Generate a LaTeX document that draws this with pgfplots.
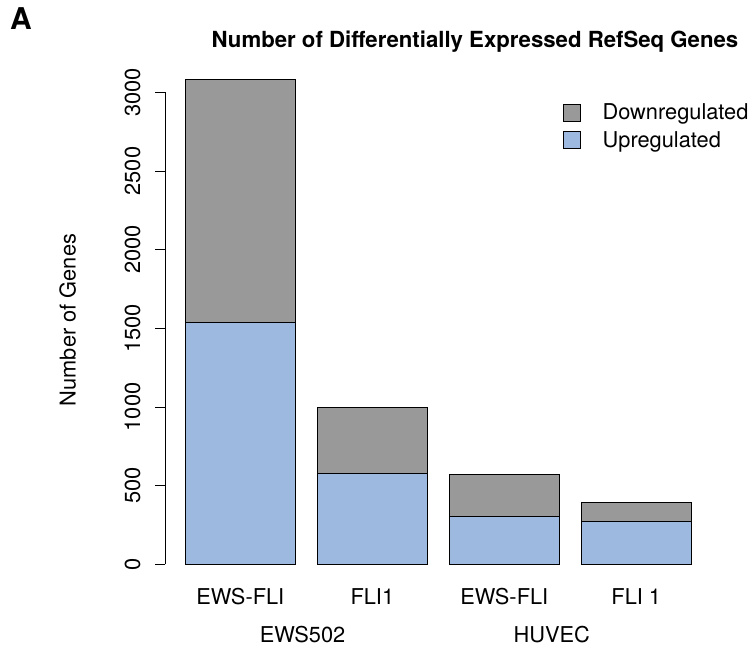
\documentclass[border=0pt]{standalone}
\usepackage{fontspec}
\setmainfont{TeX Gyre Heros}
\usepackage{pgfplots}
\pgfplotsset{compat=1.18}

\definecolor{downgray}{RGB}{153,153,153}
\definecolor{upblue}{RGB}{157,185,224}
\newcommand\lab{\fontsize{21.8}{25}\selectfont}

\pgfplotsset{
  sq legend/.style={
    legend image code/.code={
      \draw[##1,draw=black,line width=0.8pt] (0pt,-8.5pt) rectangle (17pt,8.5pt);}},
}

\begin{document}
\begin{tikzpicture}[x=1pt,y=1pt]
\useasboundingbox (0,0) rectangle (752,649);
\begin{axis}[
  at={(165.1pt,65.3pt)}, anchor=south west,
  scale only axis, width=546.4pt, height=523.8pt,
  xmin=0.016, xmax=4.984, ymin=-123.3, ymax=3206.3,
  ybar stacked, bar width=1,
  axis lines*=left,
  axis line style={draw=none},
  tick align=outside,
  xtick={0.7,1.9,3.1,4.3},
  xticklabels={EWS-FLI,FLI1,EWS-FLI,FLI 1},
  xtick style={draw=none},
  ytick={0,500,1000,1500,2000,2500,3000},
  ytick style={black,line width=0.8pt},
  major tick length=10pt,
  /pgf/number format/assume math mode=true,
  /pgf/number format/1000 sep={},
  tick label style={font=\lab},
  xticklabel style={anchor=base,inner sep=0pt,yshift=-10.5pt},
  yticklabel style={xshift=-15pt,rotate=90,anchor=base,inner sep=0pt},
  legend style={draw=none,fill=none,at={(0.728,0.917)},anchor=north west,
    inner sep=0pt,font=\lab,column sep=21.7pt,row sep=10pt,
    nodes={inner sep=0pt}},
  legend cell align=left,
  reverse legend,
  clip=false,
]
\addplot[fill=upblue,draw=black,line width=0.8pt,sq legend]
  coordinates {(0.7,1536) (1.9,580) (3.1,307) (4.3,275)};
\addplot[fill=downgray,draw=black,line width=0.8pt,sq legend]
  coordinates {(0.7,1547) (1.9,415) (3.1,265) (4.3,121)};
\legend{Upregulated,Downregulated}
% y axis line spans only the tick range
\draw[line width=0.8pt] (axis cs:0.016,0) -- (axis cs:0.016,3000);
\end{axis}
\node[anchor=base,inner sep=0pt,font=\lab] at (302.5,6.3) {EWS502};
\node[anchor=base,inner sep=0pt,font=\lab] at (551.7,6.3) {HUVEC};
\node[anchor=base,inner sep=0pt,font=\lab,rotate=90] at (75.7,329) {Number of Genes};
\node[anchor=base,inner sep=0pt,font=\bfseries\fontsize{22.2}{26}\selectfont] at (475,601) {Number of Differentially Expressed RefSeq Genes};
\node[anchor=base west,inner sep=0pt,font=\bfseries\fontsize{30}{32}\selectfont] at (10,619) {A};
\end{tikzpicture}
\end{document}
